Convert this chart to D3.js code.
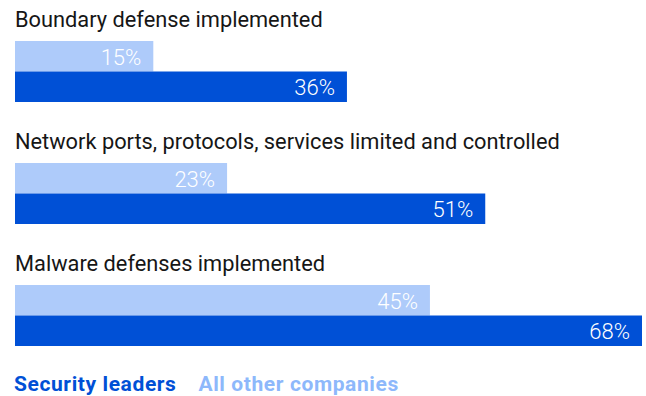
<!DOCTYPE html>
<html>
<head>
<meta charset="utf-8">
<script src="https://cdn.jsdelivr.net/npm/d3@7"></script>
<style>
  html, body { margin: 0; padding: 0; background: #ffffff; }
  svg { display: block; }
  text { font-family: Roboto, "Noto Sans", sans-serif; }
</style>
</head>
<body>
<script>
// Survey categories and the share of companies for each group
const categories = [
  "Boundary defense implemented",
  "Network ports, protocols, services limited and controlled",
  "Malware defenses implemented"
];
const otherCompanies = [15, 23, 45];
const securityLeaders = [36, 51, 68];
const seriesNames = ["All other companies", "Security leaders"];
const legendOrder = ["Security leaders", "All other companies"];

const width = 646, height = 396;
const darkBlue = "#0050d6";
const lightBlue = "#aecbfa";
const legendLight = "#8db8fb";

const svg = d3.select("body").append("svg")
  .attr("width", width)
  .attr("height", height);

// Rows: one band per category
const y = d3.scaleBand()
  .domain(categories)
  .range([27, 393])
  .paddingInner(0);

// Two stacked bars within each row
const ySub = d3.scaleBand()
  .domain(seriesNames)
  .range([0, 61]);

const x = d3.scaleLinear()
  .domain([0, 68])
  .range([15, 642]);

const rows = categories.map((c, i) => ({
  category: c,
  values: [
    { series: seriesNames[0], value: otherCompanies[i], color: lightBlue },
    { series: seriesNames[1], value: securityLeaders[i], color: darkBlue }
  ]
}));

const group = svg.selectAll("g.row")
  .data(rows)
  .join("g")
  .attr("class", "row")
  .attr("transform", d => `translate(0,${y(d.category)})`);

// Category titles
group.append("text")
  .attr("x", 15)
  .attr("y", 0)
  .attr("font-size", 21.8)
  .attr("fill", "#161616")
  .text(d => d.category);

const bars = group.append("g")
  .attr("transform", "translate(0,14)");

bars.selectAll("rect")
  .data(d => d.values)
  .join("rect")
  .attr("x", x(0))
  .attr("y", d => ySub(d.series))
  .attr("width", d => x(d.value) - x(0))
  .attr("height", ySub.bandwidth())
  .attr("fill", d => d.color);

// Value labels inside the bar ends
bars.selectAll("text.value")
  .data(d => d.values)
  .join("text")
  .attr("class", "value")
  .attr("x", d => x(d.value) - 12)
  .attr("y", d => ySub(d.series) + ySub.bandwidth() / 2 + 8.5)
  .attr("text-anchor", "end")
  .attr("font-size", 22)
  .attr("font-weight", 300)
  .attr("fill", "#ffffff")
  .text(d => d.value + "%");

// Legend
const legendColor = { "Security leaders": darkBlue, "All other companies": legendLight };
const legend = svg.append("text")
  .attr("x", 14)
  .attr("y", 391)
  .attr("font-size", 21)
  .attr("font-weight", 700)
  .attr("letter-spacing", 0.6);
legend.selectAll("tspan")
  .data(legendOrder)
  .join("tspan")
  .attr("dx", (d, i) => i === 0 ? 0 : 22)
  .attr("fill", d => legendColor[d])
  .text(d => d);
</script>
</body>
</html>
